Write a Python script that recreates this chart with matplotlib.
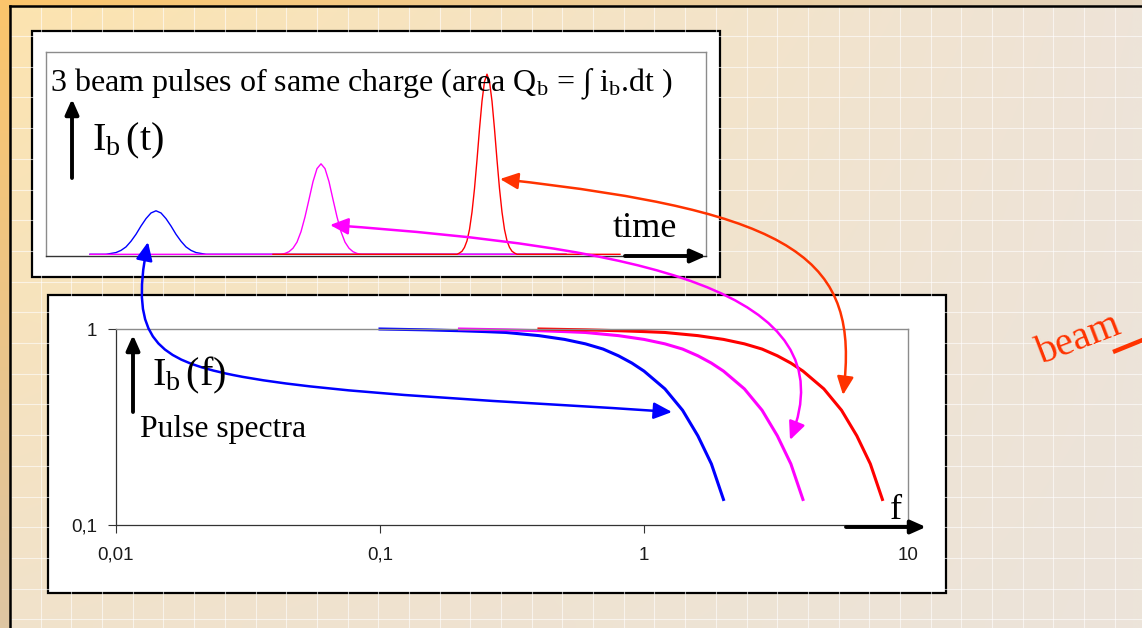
import numpy as np
import matplotlib.pyplot as plt
from matplotlib.patches import Rectangle, FancyArrowPatch
from matplotlib.path import Path
from matplotlib.ticker import NullLocator

plt.rcParams['mathtext.fontset'] = 'custom'
plt.rcParams['mathtext.rm'] = 'Liberation Serif'
plt.rcParams['mathtext.it'] = 'Liberation Serif:italic'
SERIF = ['Liberation Serif', 'DejaVu Serif']

W, H = 1142, 628

# --- beam current in the time domain (arbitrary units, blue peak = 1) ---
blue_t = [4.4, 6.0, 6.5, 7.0, 7.5, 8.0, 8.5, 9.0, 9.5, 10.0, 10.5, 11.0,
          11.5, 12.0, 12.5, 13.0, 13.5, 14.0, 14.5, 15.0, 15.5, 16.0, 52.0]
blue_i = [0, 0, 0.02, 0.04, 0.09, 0.17, 0.30, 0.46, 0.65, 0.82, 0.95, 1.0,
          0.95, 0.82, 0.65, 0.46, 0.30, 0.17, 0.09, 0.04, 0.02, 0, 0]

magenta_t = [4.4, 23.5, 23.9, 24.3, 24.7, 25.1, 25.5, 25.9, 26.3, 26.7, 27.1, 27.5,
             27.9, 28.3, 28.7, 29.1, 29.5, 29.9, 30.3, 30.7, 31.1, 31.5, 52.0]
magenta_i = [0, 0, 0.02, 0.06, 0.14, 0.28, 0.52, 0.86, 1.26, 1.67, 1.97, 2.08,
             1.97, 1.67, 1.26, 0.86, 0.52, 0.28, 0.14, 0.06, 0.02, 0, 0]

red_t = [22.7, 41.1, 41.35, 41.6, 41.85, 42.1, 42.35, 42.6, 42.85, 43.1, 43.35, 43.6,
         43.85, 44.1, 44.35, 44.6, 44.85, 45.1, 45.35, 45.6, 45.85, 46.1, 46.35,
         46.6, 46.85, 47.1, 57.4]
red_i = [0, 0, 0.03, 0.07, 0.16, 0.31, 0.57, 0.97, 1.51, 2.17, 2.88, 3.52,
         3.97, 4.14, 3.97, 3.52, 2.88, 2.17, 1.51, 0.97, 0.57, 0.31, 0.16,
         0.07, 0.03, 0, 0]

# --- normalised pulse spectra ---
blue_f = [0.1, 0.15, 0.2, 0.25, 0.3, 0.4, 0.5, 0.6, 0.7, 0.8, 0.9, 1.0, 1.2, 1.4, 1.6, 1.8, 2.0]
blue_a = [1.0, 0.99, 0.98, 0.97, 0.96, 0.925, 0.885, 0.84, 0.79, 0.73, 0.67, 0.61,
          0.495, 0.385, 0.285, 0.205, 0.135]
magenta_f = [0.2, 0.3, 0.4, 0.5, 0.6, 0.8, 1.0, 1.2, 1.4, 1.6, 1.8, 2.0, 2.4, 2.8, 3.2, 3.6, 4.0]
magenta_a = [1.0, 0.99, 0.98, 0.97, 0.96, 0.925, 0.885, 0.84, 0.79, 0.73, 0.67, 0.61,
             0.495, 0.385, 0.285, 0.205, 0.135]
red_f = [0.4, 0.6, 0.8, 1.0, 1.2, 1.6, 2.0, 2.4, 2.8, 3.2, 3.6, 4.0, 4.8, 5.6, 6.4, 7.2, 8.0]
red_a = [1.0, 0.99, 0.98, 0.97, 0.96, 0.925, 0.885, 0.84, 0.79, 0.73, 0.67, 0.61,
         0.495, 0.385, 0.285, 0.205, 0.135]

x_ticks = [0.01, 0.1, 1, 10]
x_labels = ['0,01', '0,1', '1', '10']
y_ticks = [0.1, 1]
y_labels = ['0,1', '1']

BLUE, MAGENTA, RED, ORANGE = '#0000FF', '#FF00FF', '#FF0000', '#FF3300'


def frac(x0, y0, x1, y1):
    return [x0 / W, 1 - y1 / H, (x1 - x0) / W, (y1 - y0) / H]


def gradient(tl, tr, bl, br, n=64):
    c = [np.array(plt.matplotlib.colors.to_rgb(v)) for v in (tl, tr, bl, br)]
    u = np.linspace(0, 1, n)[None, :, None]
    v = np.linspace(0, 1, n)[:, None, None]
    top = c[0] * (1 - u) + c[1] * u
    bot = c[2] * (1 - u) + c[3] * u
    return top * (1 - v) + bot * v


fig = plt.figure(figsize=(W / 100, H / 100), dpi=100)

# slide background
bg = fig.add_axes([0, 0, 1, 1])
bg.imshow(gradient('#FBC56C', '#E3D3BD', '#DEC6A2', '#E1D6C6'),
          extent=(0, W, H, 0), aspect='auto', interpolation='bilinear')
bg.imshow(gradient('#FCE4B0', '#EEE4D8', '#F1E2CB', '#ECE4DA'),
          extent=(10, W, H, 7), aspect='auto', interpolation='bilinear')
for gx in np.arange(10 + 30.69, W, 30.69):
    bg.plot([gx, gx], [7, H], color='white', lw=0.8, alpha=0.6)
for gy in np.arange(5.3 + 30.7, H, 30.7):
    bg.plot([10, W], [gy, gy], color='white', lw=0.8, alpha=0.6)
bg.plot([9.5, 9.5], [6.3, H], color='black', lw=1.8)
bg.plot([9.5, W], [6.3, 6.3], color='black', lw=1.8)
bg.set_xlim(0, W)
bg.set_ylim(H, 0)
bg.axis('off')

# white chart panels
bg.add_patch(Rectangle((32, 31), 688, 246, fc='white', ec='black', lw=1.6))
bg.add_patch(Rectangle((48, 295), 898, 298, fc='white', ec='black', lw=1.6))

# time-domain pulses
ax_t = fig.add_axes(frac(46, 52, 706, 256))
ax_t.set_facecolor('none')
ax_t.plot(blue_t, blue_i, color=BLUE, lw=1.0)
ax_t.plot(magenta_t, magenta_i, color=MAGENTA, lw=1.0)
ax_t.plot(red_t, red_i, color=RED, lw=1.0)
ax_t.set_xlim(0, 66)
ax_t.set_ylim(-0.039, 4.65)
ax_t.set_xticks([])
ax_t.set_yticks([])
for side in ('top', 'left', 'right'):
    ax_t.spines[side].set_color('#8c8c8c')
    ax_t.spines[side].set_linewidth(1.0)
ax_t.spines['bottom'].set_color('#333333')
ax_t.spines['bottom'].set_linewidth(1.0)

# pulse spectra on log-log axes
ax_b = fig.add_axes(frac(116, 329, 908, 525))
ax_b.set_facecolor('none')
ax_b.plot(blue_f, blue_a, color=BLUE, lw=2.2, clip_on=False)
ax_b.plot(magenta_f, magenta_a, color=MAGENTA, lw=2.2, clip_on=False)
ax_b.plot(red_f, red_a, color=RED, lw=2.2, clip_on=False)
ax_b.set_xscale('log')
ax_b.set_yscale('log')
ax_b.set_xlim(0.01, 10)
ax_b.set_ylim(0.1, 1)
ax_b.xaxis.set_minor_locator(NullLocator())
ax_b.yaxis.set_minor_locator(NullLocator())
ax_b.set_xticks(x_ticks)
ax_b.set_xticklabels(x_labels)
ax_b.set_yticks(y_ticks)
ax_b.set_yticklabels(y_labels)
ax_b.tick_params(axis='both', direction='out', length=5.5, width=0.8, color='#333333',
                 labelsize=13.5, labelcolor='#1a1a1a')
ax_b.tick_params(axis='x', pad=10)
ax_b.tick_params(axis='y', pad=8)
for lab in ax_b.get_xticklabels() + ax_b.get_yticklabels():
    lab.set_family('Liberation Sans')
for side in ('top', 'right'):
    ax_b.spines[side].set_color('#8c8c8c')
    ax_b.spines[side].set_linewidth(1.0)
for side in ('left', 'bottom'):
    ax_b.spines[side].set_color('#333333')
    ax_b.spines[side].set_linewidth(0.9)

# overlay for labels and connecting arrows (pixel coordinates)
ov = fig.add_axes([0, 0, 1, 1])
ov.set_zorder(5)
ov.patch.set_visible(False)
ov.set_xlim(0, W)
ov.set_ylim(H, 0)
ov.axis('off')

ov.text(50, 91, r'3 beam pulses of same charge (area $\mathrm{Q_b}$ = ∫ $\mathrm{i_b}$.dt )',
        fontsize=23, family=SERIF, va='baseline')
ov.text(92, 150, r'$\mathrm{I_b\,}$(t)', fontsize=29, family=SERIF, va='baseline')
ov.text(613, 237, 'time', fontsize=26, family=SERIF, va='baseline')
ov.text(152, 385, r'$\mathrm{I_b\,}$(f)', fontsize=29, family=SERIF, va='baseline')
ov.text(140, 437, 'Pulse spectra', fontsize=22.8, family=SERIF, va='baseline')
ov.text(890, 519, 'f', fontsize=26, family=SERIF, va='baseline')
ov.text(1042, 364, 'beam', fontsize=29, family=SERIF, color=ORANGE, va='baseline',
        rotation=21, rotation_mode='anchor')
ov.plot([1113, 1150], [352, 337], color=ORANGE, lw=3.2, solid_capstyle='butt')

# black axis arrows
for p0, p1 in [((625, 256), (706, 256)), ((846, 527), (926, 527)),
               ((72, 178), (72, 99)), ((133, 412), (133, 335))]:
    ov.add_patch(FancyArrowPatch(p0, p1, arrowstyle='-|>,head_length=9,head_width=4',
                                 mutation_scale=1, lw=2.8, color='black',
                                 shrinkA=0, shrinkB=0))

# curved arrows linking each pulse with its spectrum
C4 = Path.CURVE4
style = '<|-|>,head_length=11,head_width=5'
red_path = Path([(500, 179), (800, 212), (860, 260), (843, 395)],
                [Path.MOVETO, C4, C4, C4])
magenta_path = Path([(330, 225), (640, 247), (850, 290), (790, 440)],
                    [Path.MOVETO, C4, C4, C4])
blue_path = Path([(148, 242), (128, 340), (160, 360), (233, 375),
                  (333, 395), (522, 401.5), (672, 412)],
                 [Path.MOVETO, C4, C4, C4, C4, C4, C4])
for pth, col in [(red_path, ORANGE), (magenta_path, MAGENTA), (blue_path, BLUE)]:
    ov.add_patch(FancyArrowPatch(path=pth, arrowstyle=style, mutation_scale=1,
                                 lw=1.8, color=col))

fig.savefig('out.png', dpi=100)
